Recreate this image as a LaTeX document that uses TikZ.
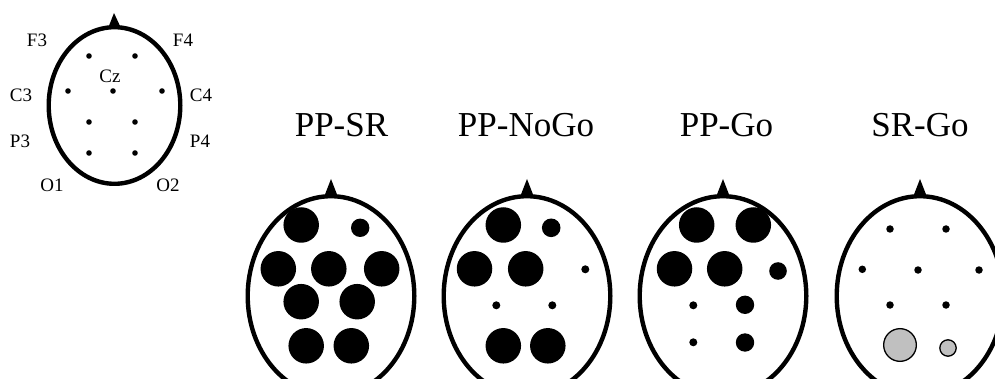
\documentclass[tikz,border=0pt]{standalone}
\usepackage{fontspec}
\setmainfont{Liberation Serif}
\definecolor{elgray}{HTML}{C0C0C0}
\begin{document}
\begin{tikzpicture}[x=1pt,y=-1pt,
  lbl/.style={font=\fontsize{19}{19}\selectfont, anchor=base, inner sep=0pt},
  ttl/.style={font=\fontsize{35}{35}\selectfont, anchor=base, inner sep=0pt},
  el/.style={circle, fill=black, inner sep=0pt, minimum size=#1},
  gel/.style={circle, draw=black, line width=1.3pt, fill=elgray, inner sep=0pt, minimum size=#1},
  headline/.style={line width=4.4pt},
]
\useasboundingbox (0,0) rectangle (995,379);
\clip (0,0) rectangle (995,379);

% ---------- small reference head ----------
\draw[headline] (114.5,105.5) ellipse [x radius=65.8pt, y radius=78.3pt];
\fill (108.5,27) -- (114,13) -- (120.5,27) -- cycle;
\node[el=5.6pt] (sF3) at (89,56) {};
\node[el=5.6pt] (sF4) at (135,56) {};
\node[el=5.6pt] (sC3) at (68,91) {};
\node[el=5.6pt] (sCz) at (113,91) {};
\node[el=5.6pt] (sC4) at (162,91) {};
\node[el=5.6pt] (sP3) at (89,122) {};
\node[el=5.6pt] (sP4) at (135,122) {};
\node[el=5.6pt] (sO1) at (89,153) {};
\node[el=5.6pt] (sO2) at (135,153) {};
\node[lbl] (tF3) at (37,47) {F3};
\node[lbl] (tF4) at (183,47) {F4};
\node[lbl] (tCz) at (110,83) {Cz};
\node[lbl] (tC3) at (21,102) {C3};
\node[lbl] (tC4) at (201,102) {C4};
\node[lbl] (tP3) at (20,148) {P3};
\node[lbl] (tP4) at (200,148) {P4};
\node[lbl] (tO1) at (52,192) {O1};
\node[lbl] (tO2) at (168,192) {O2};

% ---------- titles ----------
\node[ttl] (ttlA) at (341.5,137) {PP-SR};
\node[ttl] (ttlB) at (526,137) {PP-NoGo};
\node[ttl] (ttlC) at (726.5,137) {PP-Go};
\node[ttl] (ttlD) at (920,137) {SR-Go};

% ---------- big heads ----------
\foreach \cx in {331,527,723,920}{
  \draw[headline] (\cx,296) ellipse [x radius=83.3pt, y radius=99.8pt];
  \fill (\cx-7,197) -- (\cx,179) -- (\cx+7,197) -- cycle;
}

% PP-SR
\node[el=35.5pt] (aF3) at (301.2,225) {};
\node[el=18.4pt] (aF4) at (360.2,227.8) {};
\node[el=35.5pt] (aC3) at (278.3,268.8) {};
\node[el=35.5pt] (aCz) at (328.8,268.8) {};
\node[el=35.5pt] (aC4) at (381.7,268.8) {};
\node[el=35.5pt] (aP3) at (301.2,301.7) {};
\node[el=35.5pt] (aP4) at (357.2,301.7) {};
\node[el=35.5pt] (aO1) at (306.2,345.8) {};
\node[el=35.5pt] (aO2) at (351.3,345.8) {};

% PP-NoGo
\node[el=35.5pt] (bF3) at (503.3,225) {};
\node[el=18.6pt] (bF4) at (551.2,227.8) {};
\node[el=35.5pt] (bC3) at (474.5,268.8) {};
\node[el=35.5pt] (bCz) at (525.7,268.8) {};
\node[el=8pt] (bC4) at (585.3,269.3) {};
\node[el=8pt] (bP3) at (496.3,305.3) {};
\node[el=8pt] (bP4) at (552.3,305.3) {};
\node[el=35.5pt] (bO1) at (503.3,345.8) {};
\node[el=35.5pt] (bO2) at (547.8,345.8) {};

% PP-Go
\node[el=35.5pt] (cF3) at (696.7,225) {};
\node[el=35.5pt] (cF4) at (753.3,225) {};
\node[el=35.5pt] (cC3) at (674.5,268.8) {};
\node[el=35.5pt] (cCz) at (724.7,268.8) {};
\node[el=17.6pt] (cC4) at (778,271) {};
\node[el=8pt] (cP3) at (693.3,305.3) {};
\node[el=18.4pt] (cP4) at (745,304.8) {};
\node[el=8pt] (cO1) at (693.3,342.3) {};
\node[el=18.4pt] (cO2) at (745,342.5) {};

% SR-Go
\node[el=7.5pt] (dF3) at (890,229) {};
\node[el=7.5pt] (dF4) at (946,229) {};
\node[el=7.5pt] (dC3) at (862.3,269.3) {};
\node[el=7.5pt] (dCz) at (918,270) {};
\node[el=7.5pt] (dC4) at (979,270) {};
\node[el=7.5pt] (dP3) at (890,305) {};
\node[el=7.5pt] (dP4) at (946,305) {};
\node[gel=32.7pt] (dO1) at (900,345) {};
\node[gel=16.4pt] (dO2) at (948,348) {};
\end{tikzpicture}
\end{document}
